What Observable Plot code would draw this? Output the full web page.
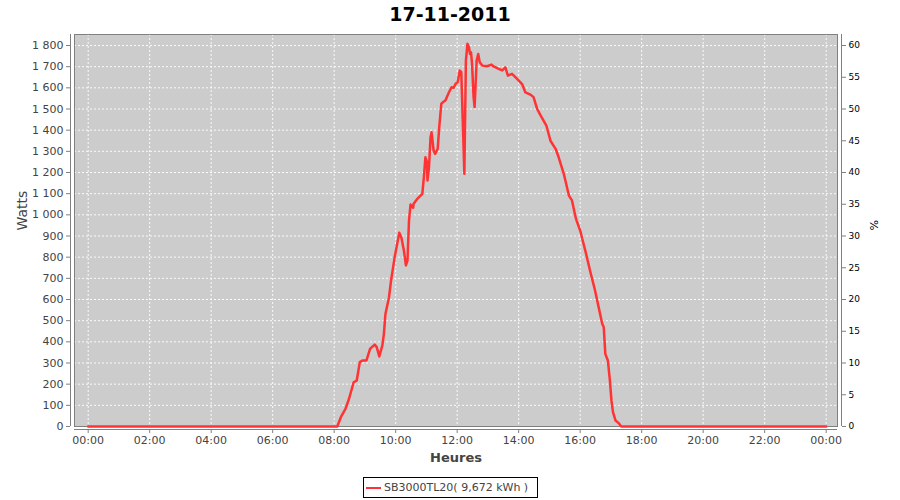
<!DOCTYPE html>
<html><head><meta charset="utf-8">
<script src="https://cdn.jsdelivr.net/npm/d3@7"></script>
<script src="https://cdn.jsdelivr.net/npm/@observablehq/plot@0.6"></script>
<style>
body{margin:0;background:#fff;font-family:"DejaVu Sans",sans-serif;}
#wrap{position:relative;width:900px;height:500px;overflow:hidden;}
#title{position:absolute;left:0;top:0;width:900px;height:28px;line-height:28px;text-align:center;font-weight:bold;font-size:19px;color:#000;}
#chart{position:absolute;left:0;top:28px;}
#legend{position:absolute;left:363px;top:477px;width:175px;height:21px;box-sizing:border-box;border:1px solid #000;font-size:11px;color:#444;display:flex;align-items:center;white-space:nowrap;background:#fff;}
#legend .sw{display:inline-block;width:15px;height:2px;background:#ff3333;margin:0 3px 0 2px;}
</style></head><body>
<div id="wrap"><div id="title"></div><div id="chart"></div><div id="legend"><span class="sw"></span><span id="ltext"></span></div></div>
<script>
const title = "17-11-2011";
const seriesName = "SB3000TL20( 9,672 kWh )";
const yLabel = "Watts";
const xLabel = "Heures";
const rightLabel = "%";
const nominalPower = 3000; // % axis = watts / 3000 W

const times = ["00:00","08:06","08:13","08:22","08:29","08:38","08:44","08:50","08:55","09:03","09:10","09:19","09:23","09:28","09:34","09:37","09:40","09:47","09:51","09:58","10:03","10:07","10:11","10:16","10:20","10:23","10:26","10:29","10:34","10:35","10:42","10:52","10:55","10:58","11:01","11:02","11:05","11:08","11:10","11:14","11:17","11:22","11:25","11:29","11:32","11:37","11:44","11:49","11:53","11:57","12:01","12:05","12:08","12:14","12:17","12:20","12:23","12:25","12:27","12:29","12:32","12:34","12:38","12:41","12:44","12:49","12:58","13:07","13:11","13:21","13:28","13:34","13:39","13:47","13:57","14:07","14:13","14:23","14:29","14:36","14:43","14:54","15:02","15:12","15:18","15:28","15:38","15:44","15:51","15:53","16:01","16:04","16:10","16:20","16:29","16:36","16:43","16:46","16:49","16:54","16:58","17:01","17:04","17:09","17:15","17:20","24:00"];
const watts = [0,0,44,83,131,209,217,304,312,312,367,387,375,331,383,438,532,611,690,800,863,915,894,831,761,784,973,1049,1033,1052,1075,1099,1178,1272,1249,1162,1225,1367,1390,1304,1288,1312,1414,1524,1532,1540,1579,1603,1600,1619,1627,1682,1674,1194,1729,1808,1792,1760,1768,1713,1556,1509,1729,1760,1721,1705,1702,1710,1701,1690,1682,1697,1658,1666,1642,1616,1579,1568,1556,1501,1469,1422,1350,1312,1272,1194,1091,1068,989,973,918,887,831,729,643,564,485,469,343,312,217,123,68,28,16,0,0];

const xTicks = [0,2,4,6,8,10,12,14,16,18,20,22,24];
const yTicks = [0,100,200,300,400,500,600,700,800,900,1000,1100,1200,1300,1400,1500,1600,1700,1800];
const pctTicks = [0,5,10,15,20,25,30,35,40,45,50,55,60];
const xDomain = [-0.445, 24.368];
const yDomain = [0, 1852];

const toHours = t => { const [h, m] = t.split(":").map(Number); return h + m / 60; };
const data = times.map((t, i) => ({h: toHours(t), w: watts[i]}));

const fr = d3.formatLocale({decimal: ",", thousands: " ", grouping: [3], currency: ["", ""]}).format(",");
const hh = h => String(h % 24).padStart(2, "0") + ":00";

document.getElementById("title").textContent = title;
document.getElementById("ltext").textContent = seriesName;

const gridStyle = {stroke: "#ffffff", strokeOpacity: 0.9, strokeDasharray: "2,2", strokeWidth: 1};
const axisGray = "#808080";

const chart = Plot.plot({
  width: 900, height: 440,
  marginLeft: 74, marginRight: 63, marginTop: 6, marginBottom: 42,
  x: {domain: xDomain, label: null},
  y: {domain: yDomain, label: null},
  style: {fontFamily: "DejaVu Sans", background: "transparent", overflow: "visible"},
  marks: [
    Plot.frame({fill: "#cccccc", stroke: null}),
    Plot.gridX(xTicks, gridStyle),
    Plot.gridY(yTicks, gridStyle),
    Plot.frame({stroke: axisGray, fill: null}),
    Plot.line(data, {x: "h", y: "w", stroke: "#ff3333", strokeWidth: 2.5, strokeLinejoin: "round"}),
    Plot.ruleY([yDomain[0]], {dy: 3, stroke: axisGray}),
    Plot.ruleX([xDomain[0]], {dx: -4, stroke: axisGray}),
    Plot.ruleX([xDomain[1]], {dx: 4, stroke: axisGray}),
    Plot.axisX(xTicks, {anchor: "bottom", dy: 3, tickSize: 4, tickPadding: 3, tickFormat: hh, fontSize: 11, color: "#444", stroke: axisGray, label: null}),
    Plot.axisY(yTicks, {anchor: "left", dx: -4, tickSize: 4, tickPadding: 3, tickFormat: fr, fontSize: 11, color: "#444", stroke: axisGray, label: null}),
    Plot.axisY(pctTicks.map(p => p * nominalPower / 100), {anchor: "right", dx: 4, tickSize: 4, tickPadding: 3, tickFormat: w => Math.round(w * 100 / nominalPower), fontSize: 9, color: "#000", stroke: axisGray, label: null}),
    Plot.text([yLabel], {text: d => d, frameAnchor: "left", dx: -52, rotate: -90, fontSize: 14, fill: "#444"}),
    Plot.text([rightLabel], {text: d => d, frameAnchor: "right", dx: 36, rotate: 90, fontSize: 11, fill: "#000"}),
    Plot.text([xLabel], {text: d => d, frameAnchor: "bottom", dy: 35, fontSize: 13, fontWeight: "bold", fill: "#444"})
  ]
});
document.getElementById("chart").appendChild(chart);
</script>
</body></html>
